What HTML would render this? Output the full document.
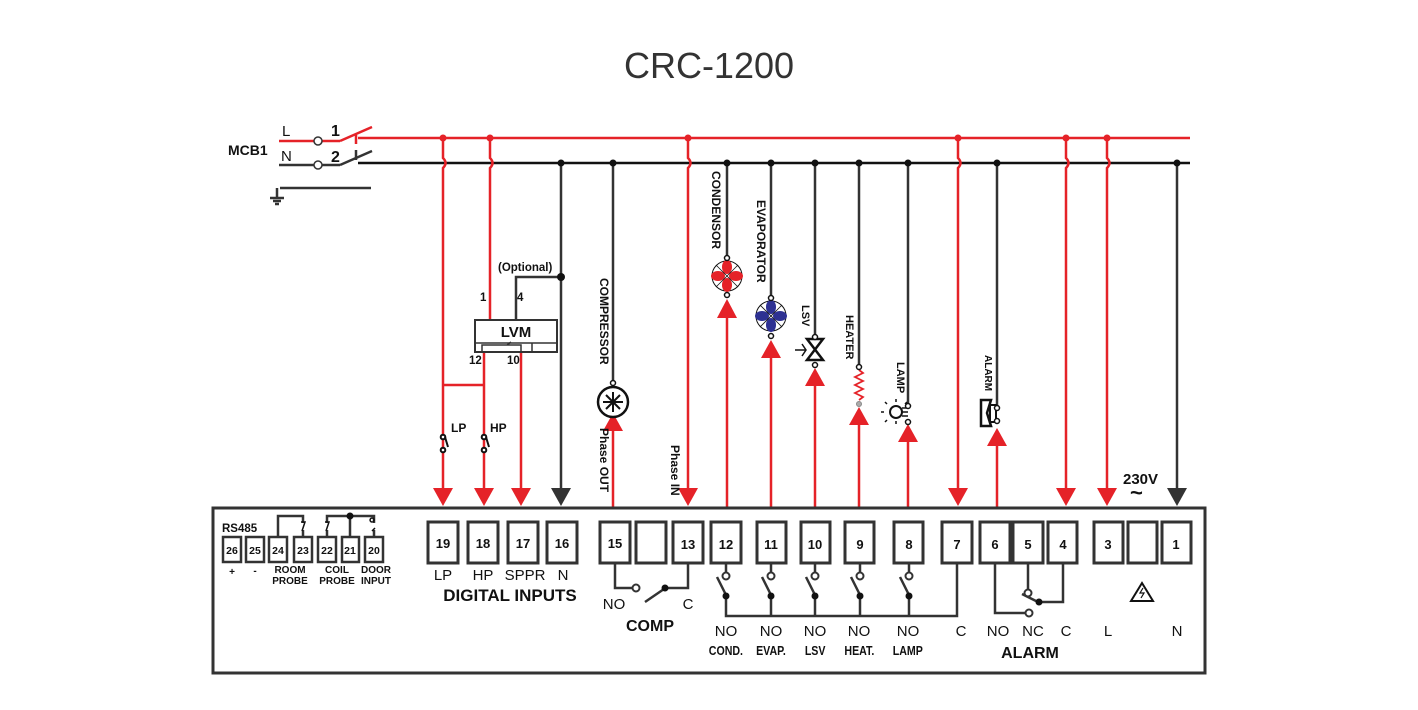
<!DOCTYPE html>
<html><head><meta charset="utf-8"><style>
body{margin:0;background:#fff}
svg{display:block}
text{font-family:"Liberation Sans",Arial,sans-serif;fill:#111}
.b{font-weight:bold}
</style></head><body>
<svg width="1418" height="710" viewBox="0 0 1418 710" xmlns="http://www.w3.org/2000/svg">
<text x="709" y="78" font-size="36" text-anchor="middle" fill="#333" style="fill:#333">CRC-1200</text>

<!-- MCB -->
<text x="228" y="155" font-size="14" class="b">MCB1</text>
<text x="282" y="136" font-size="15">L</text>
<text x="281" y="161" font-size="15">N</text>
<text x="331" y="136" font-size="16" class="b">1</text>
<text x="331" y="162" font-size="16" class="b">2</text>
<g fill="none" stroke-width="2.5">
<line x1="279" y1="141" x2="340" y2="141" stroke="#e52228"/>
<line x1="340" y1="141" x2="372" y2="127" stroke="#e52228"/>
<line x1="356" y1="135" x2="356" y2="144" stroke="#e52228"/>
<line x1="279" y1="165" x2="340" y2="165" stroke="#333"/>
<line x1="340" y1="165" x2="372" y2="151" stroke="#333"/>
<line x1="356" y1="150" x2="356" y2="160" stroke="#333"/>
<line x1="280" y1="188" x2="371" y2="188" stroke="#333"/>
<line x1="277" y1="188" x2="277" y2="197" stroke="#333"/>
<line x1="270" y1="198" x2="284" y2="198" stroke="#333"/>
<line x1="273" y1="201" x2="281" y2="201" stroke="#333"/>
<line x1="275" y1="204" x2="279" y2="204" stroke="#333"/>
</g>
<circle cx="318" cy="141" r="4" fill="#fff" stroke="#333" stroke-width="1.5"/>
<circle cx="318" cy="165" r="4" fill="#fff" stroke="#333" stroke-width="1.5"/>

<!-- bus lines -->
<line x1="358" y1="138" x2="1190" y2="138" stroke="#e52228" stroke-width="2.5"/>
<line x1="358" y1="163" x2="1190" y2="163" stroke="#111" stroke-width="2.5"/>

<!-- red verticals from L (with jumps) -->
<g stroke="#e52228" stroke-width="2.5" fill="none">
<path d="M443 138 V158 q5 5 0 10 V490"/>
<path d="M490 138 V158 q5 5 0 10 V320"/>
<path d="M688 138 V158 q5 5 0 10 V490"/>
<path d="M958 138 V158 q5 5 0 10 V490"/>
<path d="M1066 138 V158 q5 5 0 10 V490"/>
<path d="M1107 138 V158 q5 5 0 10 V490"/>
<path d="M443 385 H485"/>
<path d="M484 352 V490"/>
<path d="M521 352 V490"/>
<!-- up wires -->
<path d="M613 507 V428"/>
<path d="M727 507 V316"/>
<path d="M771 507 V356"/>
<path d="M815 507 V383"/>
<path d="M859 507 V423"/>
<path d="M908 507 V440"/>
<path d="M997 507 V444"/>
</g>
<g fill="#e52228">
<circle cx="443" cy="138" r="3.5"/><circle cx="490" cy="138" r="3.5"/><circle cx="688" cy="138" r="3.5"/>
<circle cx="958" cy="138" r="3.5"/><circle cx="1066" cy="138" r="3.5"/><circle cx="1107" cy="138" r="3.5"/>
<!-- down arrows -->
<polygon points="433,488 453,488 443,506"/>
<polygon points="474,488 494,488 484,506"/>
<polygon points="511,488 531,488 521,506"/>
<polygon points="678,488 698,488 688,506"/>
<polygon points="948,488 968,488 958,506"/>
<polygon points="1056,488 1076,488 1066,506"/>
<polygon points="1097,488 1117,488 1107,506"/>
<!-- up arrows -->
<polygon points="603,431 623,431 613,413"/>
<polygon points="717,318 737,318 727,299"/>
<polygon points="761,358 781,358 771,340"/>
<polygon points="805,386 825,386 815,368"/>
<polygon points="849,425 869,425 859,407"/>
<polygon points="898,442 918,442 908,424"/>
<polygon points="987,446 1007,446 997,428"/>
</g>

<!-- black verticals -->
<g stroke="#333" stroke-width="2.5" fill="none">
<path d="M561 163 V490"/>
<path d="M561 277 H516 V320"/>
<path d="M613 163 V382"/>
<path d="M727 163 V258"/>
<path d="M771 163 V298"/>
<path d="M815 163 V337"/>
<path d="M859 163 V368"/>
<path d="M908 163 V406"/>
<path d="M997 163 V407"/>
<path d="M1177 163 V490"/>
</g>
<g fill="#111">
<circle cx="561" cy="163" r="3.5"/><circle cx="613" cy="163" r="3.5"/><circle cx="727" cy="163" r="3.5"/>
<circle cx="771" cy="163" r="3.5"/><circle cx="815" cy="163" r="3.5"/><circle cx="859" cy="163" r="3.5"/>
<circle cx="908" cy="163" r="3.5"/><circle cx="997" cy="163" r="3.5"/><circle cx="1177" cy="163" r="3.5"/>
<circle cx="561" cy="277" r="4"/>
<polygon points="551,488 571,488 561,506" fill="#333"/>
<polygon points="1167,488 1187,488 1177,506" fill="#333"/>
</g>

<!-- LVM -->
<text x="498" y="271" font-size="11.5" class="b">(Optional)</text>
<text x="480" y="301" font-size="11.5" class="b">1</text>
<text x="517" y="301" font-size="11.5" class="b">4</text>
<rect x="475" y="320" width="82" height="32" fill="#fff" stroke="#333" stroke-width="2"/>
<line x1="475" y1="343" x2="557" y2="343" stroke="#333" stroke-width="1.5"/>
<line x1="532" y1="343" x2="532" y2="352" stroke="#333" stroke-width="1.5"/>
<path d="M482 352 V345 H521 V352 M507 345 l4 -3" fill="none" stroke="#333" stroke-width="1.5"/>
<text x="516" y="337" font-size="15" class="b" text-anchor="middle">LVM</text>
<text x="469" y="364" font-size="11.5" class="b">12</text>
<text x="507" y="364" font-size="11.5" class="b">10</text>

<!-- LP / HP switches -->
<g stroke="#111" stroke-width="2" fill="#fff">
<circle cx="443" cy="437" r="2.3"/><circle cx="443" cy="450" r="2.3"/>
<path d="M445 437 l3 10" fill="none"/>
<circle cx="484" cy="437" r="2.3"/><circle cx="484" cy="450" r="2.3"/>
<path d="M486 437 l3 10" fill="none"/>
</g>
<text x="451" y="432" font-size="12" class="b">LP</text>
<text x="490" y="432" font-size="12" class="b">HP</text>

<!-- Compressor -->
<circle cx="613" cy="402" r="15" fill="#fff" stroke="#111" stroke-width="2.5"/>
<g stroke="#111" stroke-width="2">
<line x1="603" y1="402" x2="623" y2="402"/><line x1="613" y1="392" x2="613" y2="412"/>
<line x1="606" y1="395" x2="620" y2="409"/><line x1="620" y1="395" x2="606" y2="409"/>
</g>
<circle cx="613" cy="383" r="2.5" fill="#fff" stroke="#111" stroke-width="1.5"/>
<text transform="translate(600,278) rotate(90)" font-size="12" class="b">COMPRESSOR</text>
<text transform="translate(600,428) rotate(90)" font-size="12" class="b">Phase OUT</text>
<text transform="translate(671,445) rotate(90)" font-size="12" class="b">Phase IN</text>

<!-- Condenser fan -->
<circle cx="727" cy="276" r="15" fill="#fff" stroke="#111" stroke-width="1"/>
<g fill="#e52228"><ellipse cx="727" cy="267" rx="5" ry="7"/><ellipse cx="727" cy="285" rx="5" ry="7"/><ellipse cx="718" cy="276" rx="7" ry="5"/><ellipse cx="736" cy="276" rx="7" ry="5"/></g>
<g stroke="#111" stroke-width="0.8"><line x1="716" y1="265" x2="738" y2="287"/><line x1="738" y1="265" x2="716" y2="287"/></g>
<circle cx="727" cy="258" r="2.5" fill="#fff" stroke="#111" stroke-width="1.5"/>
<circle cx="727" cy="295" r="2.5" fill="#fff" stroke="#111" stroke-width="1.5"/>
<text transform="translate(712,171) rotate(90)" font-size="12" class="b">CONDENSOR</text>

<!-- Evaporator fan -->
<circle cx="771" cy="316" r="15" fill="#fff" stroke="#111" stroke-width="1"/>
<g fill="#2e3192"><ellipse cx="771" cy="307" rx="5" ry="7"/><ellipse cx="771" cy="325" rx="5" ry="7"/><ellipse cx="762" cy="316" rx="7" ry="5"/><ellipse cx="780" cy="316" rx="7" ry="5"/></g>
<g stroke="#111" stroke-width="0.8"><line x1="760" y1="305" x2="782" y2="327"/><line x1="782" y1="305" x2="760" y2="327"/></g>
<circle cx="771" cy="298" r="2.5" fill="#fff" stroke="#111" stroke-width="1.5"/>
<circle cx="771" cy="336" r="2.5" fill="#fff" stroke="#111" stroke-width="1.5"/>
<text transform="translate(757,200) rotate(90)" font-size="12" class="b">EVAPORATOR</text>

<!-- LSV -->
<path d="M807 339 H823 L807 360 H823 Z" fill="#fff" stroke="#111" stroke-width="2.5"/>
<path d="M795 350 H806 M802 344 l4 6 -4 6" fill="none" stroke="#111" stroke-width="1.5"/>
<circle cx="815" cy="337" r="2.5" fill="#fff" stroke="#111" stroke-width="1.5"/>
<circle cx="815" cy="365" r="2.5" fill="#fff" stroke="#111" stroke-width="1.5"/>
<text transform="translate(802,305) rotate(90)" font-size="11" class="b">LSV</text>

<!-- Heater -->
<path d="M859 370 l4 3 -8 4 8 4 -8 4 8 4 -8 4 8 4 -4 3" fill="none" stroke="#e52228" stroke-width="1.8"/>
<circle cx="859" cy="367" r="2.5" fill="#fff" stroke="#111" stroke-width="1.5"/>
<circle cx="859" cy="404" r="2.5" fill="#aaa" stroke="#888" stroke-width="1"/>
<text transform="translate(846,315) rotate(90)" font-size="11" class="b">HEATER</text>

<!-- Lamp -->
<circle cx="896" cy="412" r="6" fill="#fff" stroke="#111" stroke-width="2"/>
<path d="M884 412 h-3 M896 402 v-3 M887 404 l-2 -2 M905 404 l2 -2 M887 420 l-2 2 M896 421 v3" stroke="#111" stroke-width="1.5"/>
<path d="M902 408 H908 M902 412 H908 M902 416 H908" stroke="#111" stroke-width="1.5"/>
<circle cx="908" cy="406" r="2.5" fill="#fff" stroke="#111" stroke-width="1.5"/>
<circle cx="908" cy="422" r="2.5" fill="#fff" stroke="#111" stroke-width="1.5"/>
<text transform="translate(897,362) rotate(90)" font-size="11" class="b">LAMP</text>

<!-- Alarm -->
<path d="M981 400 H991 L987 413 L991 426 H981 Z" fill="none" stroke="#111" stroke-width="2.5"/>
<rect x="990" y="405" width="6" height="17" fill="#fff" stroke="#111" stroke-width="2"/>
<circle cx="997" cy="408" r="2.5" fill="#fff" stroke="#111" stroke-width="1.5"/>
<circle cx="997" cy="421" r="2.5" fill="#fff" stroke="#111" stroke-width="1.5"/>
<text transform="translate(985,355) rotate(90)" font-size="10" class="b">ALARM</text>

<text x="1123" y="484" font-size="15" class="b">230V</text>
<text x="1130" y="500" font-size="22" class="b">~</text>

<!-- Controller box -->
<rect x="213" y="508" width="992" height="165" fill="none" stroke="#333" stroke-width="3"/>

<!-- small terminals -->
<g fill="#fff" stroke="#333" stroke-width="2.5">
<rect x="223" y="537" width="18" height="25"/><rect x="246" y="537" width="18" height="25"/>
<rect x="269" y="537" width="18" height="25"/><rect x="294" y="537" width="18" height="25"/>
<rect x="318" y="537" width="18" height="25"/><rect x="342" y="537" width="17" height="25"/>
<rect x="365" y="537" width="18" height="25"/>
</g>
<g font-size="10.5" class="b" text-anchor="middle">
<text x="232" y="554">26</text><text x="255" y="554">25</text><text x="278" y="554">24</text>
<text x="303" y="554">23</text><text x="327" y="554">22</text><text x="350" y="554">21</text><text x="374" y="554">20</text>
</g>
<text x="222" y="532" font-size="11.5" class="b">RS485</text>
<g stroke="#333" stroke-width="2.5" fill="none">
<path d="M278 537 V516 H303 V523"/>
<path d="M327 523 V516 H374 V523"/>
<path d="M350 516 V537"/>
<path d="M303 530 V537 M327 530 V537 M374 530 V537"/>
</g>
<circle cx="350" cy="516" r="3.5" fill="#111"/>
<g stroke="#111" stroke-width="1.5" fill="none">
<path d="M301 522 l4 0 -3 9 M325 522 l4 0 -3 9 M372 522 a2 2 0 1 1 0.1 0 M372 531 l3 -3"/>
</g>
<g font-size="10" class="b" text-anchor="middle">
<text x="232" y="575">+</text><text x="255" y="574">-</text>
<text x="290" y="573">ROOM</text><text x="290" y="584">PROBE</text>
<text x="337" y="573">COIL</text><text x="337" y="584">PROBE</text>
<text x="376" y="573">DOOR</text><text x="376" y="584">INPUT</text>
</g>

<!-- big terminals -->
<g fill="#fff" stroke="#333" stroke-width="3">
<rect x="428" y="522" width="30" height="41"/><rect x="468" y="522" width="30" height="41"/>
<rect x="508" y="522" width="30" height="41"/><rect x="547" y="522" width="30" height="41"/>
<rect x="600" y="522" width="30" height="41"/><rect x="636" y="522" width="30" height="41"/>
<rect x="673" y="522" width="30" height="41"/><rect x="711" y="522" width="30" height="41"/>
<rect x="757" y="522" width="29" height="41"/><rect x="801" y="522" width="29" height="41"/>
<rect x="845" y="522" width="29" height="41"/><rect x="894" y="522" width="29" height="41"/>
<rect x="942" y="522" width="30" height="41"/><rect x="980" y="522" width="30" height="41"/>
<rect x="1013" y="522" width="30" height="41"/><rect x="1048" y="522" width="29" height="41"/>
<rect x="1094" y="522" width="29" height="41"/><rect x="1128" y="522" width="29" height="41"/>
<rect x="1162" y="522" width="29" height="41"/>
</g>
<g font-size="13" class="b" text-anchor="middle">
<text x="443" y="548">19</text><text x="483" y="548">18</text><text x="523" y="548">17</text><text x="562" y="548">16</text>
<text x="615" y="548">15</text><text x="688" y="549">13</text><text x="726" y="549">12</text>
<text x="771" y="549">11</text><text x="815" y="549">10</text><text x="860" y="549">9</text><text x="909" y="549">8</text>
<text x="957" y="549">7</text><text x="995" y="549">6</text><text x="1028" y="549">5</text><text x="1063" y="549">4</text>
<text x="1108" y="549">3</text><text x="1176" y="549">1</text>
</g>
<!-- warning sign -->
<path d="M1142 583 L1131 601 H1153 Z" fill="none" stroke="#111" stroke-width="2"/>
<path d="M1143 588 l-3 5 h4 l-3 5" fill="none" stroke="#111" stroke-width="1.2"/>

<g font-size="15" text-anchor="middle">
<text x="443" y="580">LP</text><text x="483" y="580">HP</text><text x="525" y="580">SPPR</text><text x="563" y="580">N</text>
<text x="614" y="609">NO</text><text x="688" y="609">C</text>
<text x="726" y="636">NO</text><text x="771" y="636">NO</text><text x="815" y="636">NO</text>
<text x="859" y="636">NO</text><text x="908" y="636">NO</text><text x="961" y="636">C</text>
<text x="998" y="636">NO</text><text x="1033" y="636">NC</text><text x="1066" y="636">C</text>
<text x="1108" y="636">L</text><text x="1177" y="636">N</text>
</g>
<text x="510" y="601" font-size="17" class="b" text-anchor="middle">DIGITAL INPUTS</text>
<text x="650" y="631" font-size="16" class="b" text-anchor="middle">COMP</text>
<text x="1030" y="658" font-size="16" class="b" text-anchor="middle">ALARM</text>
<g font-size="12.5" class="b" text-anchor="middle" transform="scale(0.85,1)">
<text x="854" y="655">COND.</text><text x="907" y="655">EVAP.</text><text x="959" y="655">LSV</text>
<text x="1011" y="655">HEAT.</text><text x="1068" y="655">LAMP</text>
</g>

<!-- COMP relay -->
<g stroke="#333" stroke-width="2.5" fill="none">
<path d="M615 563 V588 H633"/>
<path d="M688 563 V588 H666"/>
<line x1="645" y1="602" x2="664" y2="589"/>
</g>
<circle cx="636" cy="588" r="3.5" fill="#fff" stroke="#333" stroke-width="2"/>
<circle cx="665" cy="588" r="3.5" fill="#111"/>

<!-- output relays -->
<g stroke="#333" stroke-width="2.5" fill="none">
<path d="M726 563 V572 M771 563 V572 M815 563 V572 M860 563 V572 M909 563 V572"/>
<path d="M726 596 V616 H957 V563"/>
<path d="M771 596 V616 M815 596 V616 M860 596 V616 M909 596 V616"/>
<path d="M717 577 l9 18 M762 577 l9 18 M806 577 l9 18 M851 577 l9 18 M900 577 l9 18"/>
<path d="M995 563 V613 H1026"/>
<path d="M1028 563 V591"/>
<path d="M1063 563 V602 H1040"/>
<path d="M1022 594 l16 8"/>
</g>
<g fill="#fff" stroke="#333" stroke-width="2">
<circle cx="726" cy="576" r="3.5"/><circle cx="771" cy="576" r="3.5"/><circle cx="815" cy="576" r="3.5"/>
<circle cx="860" cy="576" r="3.5"/><circle cx="909" cy="576" r="3.5"/>
<circle cx="1028" cy="593" r="3.5"/><circle cx="1029" cy="613" r="3.5"/>
</g>
<g fill="#111">
<circle cx="726" cy="596" r="3.5"/><circle cx="771" cy="596" r="3.5"/><circle cx="815" cy="596" r="3.5"/>
<circle cx="860" cy="596" r="3.5"/><circle cx="909" cy="596" r="3.5"/><circle cx="1039" cy="602" r="3.5"/>
</g>
</svg>
</body></html>
